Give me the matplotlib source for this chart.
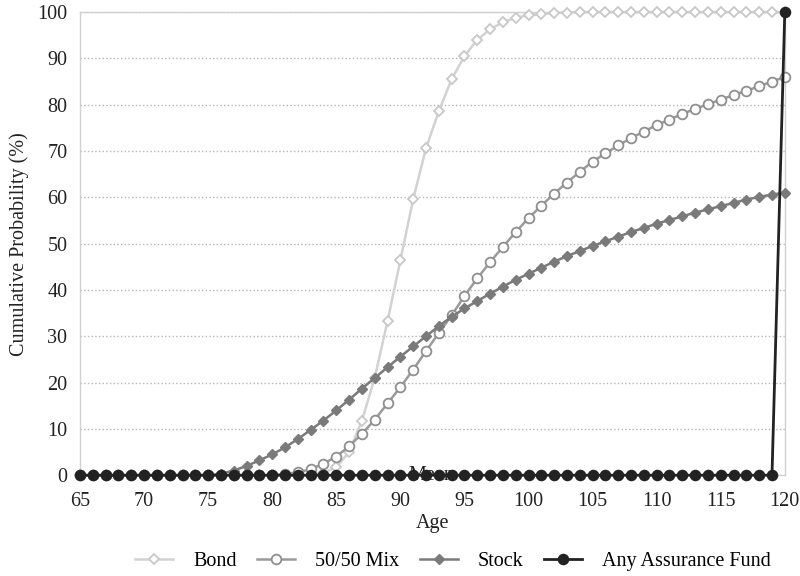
import matplotlib
matplotlib.use('Agg')
import matplotlib.pyplot as plt

# ── Data ────────────────────────────────────────────────────────────────
ages = list(range(65, 121))

bond = [0.0] * 19 + [  # 65-83
    0.5, 1.7, 5.0, 11.8, 21.0, 33.3, 46.4, 59.6, 70.6, 78.6,   # 84-93
    85.5, 90.5, 94.0, 96.3, 97.8, 98.8, 99.3, 99.6, 99.8, 99.9,  # 94-103
] + [100.0] * 17  # 104-120

mix = [0.0] * 16 + [  # 65-80
    0.3, 0.6, 1.3, 2.5, 4.0, 6.3, 8.9, 12.0, 15.5, 19.0,        # 81-90
    22.8, 26.8, 30.7, 34.5, 38.7, 42.5, 46.0, 49.3, 52.5, 55.5, # 91-100
    58.2, 60.8, 63.2, 65.5, 67.7, 69.5, 71.2, 72.8, 74.2, 75.6, # 101-110
    76.8, 78.0, 79.1, 80.1, 81.1, 82.1, 83.0, 84.0, 85.0, 86.0, # 111-120
]

stock = [0.0] * 11 + [  # 65-75
    0.3, 1.0, 2.0, 3.2, 4.5, 6.0, 7.8, 9.8, 11.8, 14.0,         # 76-85
    16.3, 18.7, 21.0, 23.3, 25.6, 27.8, 30.0, 32.2, 34.2, 36.0, # 86-95
    37.6, 39.2, 40.7, 42.2, 43.5, 44.8, 46.1, 47.3, 48.4, 49.5, # 96-105
    50.5, 51.5, 52.5, 53.4, 54.3, 55.1, 55.9, 56.7, 57.4, 58.1, # 106-115
    58.8, 59.5, 60.1, 60.6, 61.0,                               # 116-120
]

assurance = [0.0] * 55 + [100.0]  # 65-119 at 0, 120 at 100

x_ticks = list(range(65, 121, 5))
y_ticks = list(range(0, 101, 10))
mean_pos = (92.4, 0)

# ── Style ───────────────────────────────────────────────────────────────
plt.rcParams['font.family'] = ['Liberation Serif', 'DejaVu Serif']
FS = 14.5
TXT = '#222222'

fig = plt.figure(figsize=(8, 5.76), dpi=100)
ax = fig.add_axes([0.100, 0.175, 0.881, 0.804])

ax.plot(ages, bond, '-', color='#d2d2d2', lw=1.8, marker='D', ms=5,
        mfc='white', mec='#c8c8c8', mew=1.3, label='Bond', clip_on=False, zorder=3)
ax.plot(ages, mix, '-', color='#9b9b9b', lw=1.8, marker='o', ms=7,
        mfc='white', mec='#8f8f8f', mew=1.3, label='50/50 Mix', clip_on=False, zorder=4)
ax.plot(ages, stock, '-', color='#7a7a7a', lw=1.8, marker='D', ms=5.5,
        mfc='#7a7a7a', mec='#7a7a7a', label='Stock', clip_on=False, zorder=5)
ax.plot(ages, assurance, '-', color='#222222', lw=2.0, marker='o', ms=7.3,
        mfc='#222222', mec='#222222', label='Any Assurance Fund', clip_on=False, zorder=6)

ax.text(mean_pos[0], mean_pos[1], 'Mean', ha='center', va='center',
        fontsize=FS, color=TXT, zorder=7)

ax.set_xlim(65, 120)
ax.set_ylim(0, 100)
ax.set_xticks(x_ticks)
ax.set_yticks(y_ticks)
ax.tick_params(length=0, labelsize=FS, colors=TXT)
ax.tick_params(axis='x', pad=12)
ax.tick_params(axis='y', pad=9)

ax.grid(axis='y', linestyle=':', color='#b5b5b5', lw=1.0)
for side in ['left', 'right', 'top', 'bottom']:
    ax.spines[side].set_color('#d0d0d0')
    ax.spines[side].set_linewidth(1.0)

ax.set_xlabel('Age', fontsize=FS, color=TXT, labelpad=2)
ax.set_ylabel('Cumulative Probability (%)', fontsize=FS, color=TXT, labelpad=6)

fig.legend(loc='center', bbox_to_anchor=(0.566, 0.026), ncol=4,
           frameon=False, fontsize=FS, handlelength=1.9, columnspacing=1.0,
           handletextpad=1.0)

fig.savefig('out.png', dpi=100)
